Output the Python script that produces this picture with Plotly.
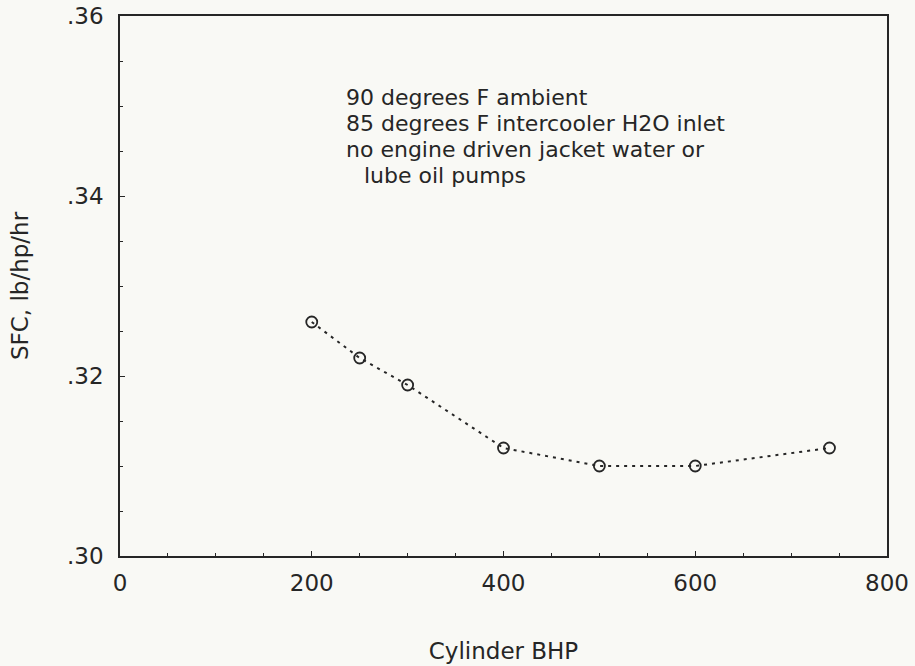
import plotly.graph_objects as go

bhp = [200, 250, 300, 400, 500, 600, 740]
sfc = [0.326, 0.322, 0.319, 0.312, 0.310, 0.310, 0.312]

x_ticks = [0, 200, 400, 600, 800]
x_ticktext = ["0", "200", "400", "600", "800"]
y_ticks = [0.30, 0.32, 0.34, 0.36]
y_ticktext = [".30", ".32", ".34", ".36"]

note_lines = [
    "90 degrees F ambient",
    "85 degrees F intercooler H2O inlet",
    "no engine driven jacket water or",
    "lube oil pumps",
]
note_indent = [0, 0, 0, 18]

ink = "#262626"
bg = "#f9f9f5"
FONT = "DejaVu Sans, Verdana, sans-serif"

fig = go.Figure()
fig.add_trace(go.Scatter(
    x=bhp, y=sfc, mode="lines+markers",
    line=dict(color=ink, width=2, dash="3px,5px"),
    marker=dict(symbol="circle-open", size=11, color=ink, line=dict(width=1.8, color=ink)),
    showlegend=False,
))

for i, (line, ind) in enumerate(zip(note_lines, note_indent)):
    fig.add_annotation(
        x=0, y=1, xref="x domain", yref="y domain",
        xanchor="left", yanchor="middle", align="left", showarrow=False,
        text=line, borderpad=0,
        font=dict(family=FONT, size=22, color=ink),
        xshift=225 + ind, yshift=-81 - 26 * i,
    )

axis_common = dict(
    showgrid=False, zeroline=False, showline=True, linecolor=ink, linewidth=1.6,
    mirror=True, ticks="inside", ticklen=5, tickcolor=ink, automargin=False,
    tickfont=dict(family=FONT, size=23, color=ink),
)

fig.update_xaxes(
    range=[0, 800], tickvals=x_ticks, ticktext=x_ticktext, ticklabelstandoff=6,
    minor=dict(dtick=50, ticks="inside", ticklen=3, tickcolor=ink),
    title=dict(text="Cylinder BHP", font=dict(family=FONT, size=23, color=ink), standoff=47),
    **axis_common,
)
fig.update_yaxes(
    range=[0.30, 0.36], tickvals=y_ticks, ticktext=y_ticktext, ticklabelstandoff=10,
    minor=dict(dtick=0.005, ticks="inside", ticklen=3, tickcolor=ink),
    title=dict(text="SFC, lb/hp/hr", font=dict(family=FONT, size=23, color=ink), standoff=32),
    **axis_common,
)

fig.update_layout(
    width=915, height=666,
    margin=dict(l=120, r=28, t=16, b=110),
    paper_bgcolor=bg, plot_bgcolor=bg,
)

fig.write_html("out.html")
